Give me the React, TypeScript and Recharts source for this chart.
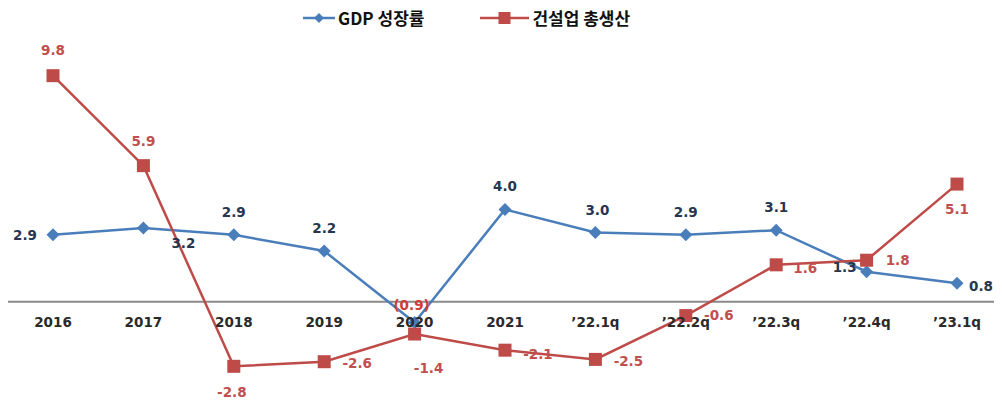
import React from 'react'
import { LineChart, Line, XAxis, YAxis, ReferenceLine, LabelList } from 'recharts'

const categories = ['2016', '2017', '2018', '2019', '2020', '2021', '’22.1q', '’22.2q', '’22.3q', '’22.4q', '’23.1q']
const gdpGrowth = [2.9, 3.2, 2.9, 2.2, -0.9, 4.0, 3.0, 2.9, 3.1, 1.3, 0.8]
const constructionOutput = [9.8, 5.9, -2.8, -2.6, -1.4, -2.1, -2.5, -0.6, 1.6, 1.8, 5.1]

const GDP_NAME = 'GDP 성장률'
const CON_NAME = '건설업 총생산'

const BLUE = '#4a7ebb'
const RED = '#be4b48'
const BLUE_TEXT = '#27364f'
const RED_TEXT = '#c0504d'

const Y_MIN = -4
const Y_MAX = 11
const W = 994
const H = 393
const X_AXIS_H = 1
const M = { top: 40, right: 0, bottom: 6, left: 0 }
const PLOT_H = H - M.top - M.bottom - X_AXIS_H
const ZERO_FROM_BOTTOM = (PLOT_H * (0 - Y_MIN)) / (Y_MAX - Y_MIN)

// label offsets (dx, dy) for each point
const gdpLabelOffset: [number, number][] = [
  [-28, 0], [40, 15], [0, -23], [0, -23], [-3, -17], [0, -23],
  [2, -23], [0, -23], [0, -23], [-22, -5], [24, 3],
]
const conLabelOffset: [number, number][] = [
  [0, -26], [0, -25], [-2, 26], [33, 1], [14, 34], [33, 4],
  [33, 2], [33, -1], [29, 3], [31, 0], [0, 25],
]

const data = categories.map((c, i) => ({
  cat: c,
  gdp: gdpGrowth[i],
  con: constructionOutput[i],
}))

const FONT = '"DejaVu Sans", "Noto Sans CJK KR", sans-serif'

function Diamond(props: any) {
  const { cx, cy, index } = props
  if (cx == null || cy == null) return <g key={`d${index}`} />
  const r = 6.5
  return (
    <path
      key={`d${index}`}
      d={`M${cx},${cy - r} L${cx + r},${cy} L${cx},${cy + r} L${cx - r},${cy} Z`}
      fill={BLUE}
    />
  )
}

function Square(props: any) {
  const { cx, cy, index } = props
  if (cx == null || cy == null) return <g key={`s${index}`} />
  const s = 6.5
  return <rect key={`s${index}`} x={cx - s} y={cy - s} width={s * 2} height={s * 2} fill={RED} />
}

function makeLabel(series: 'gdp' | 'con') {
  return (props: any) => {
    const { x, y, value, index } = props
    const off = series === 'gdp' ? gdpLabelOffset[index] : conLabelOffset[index]
    let text = value.toFixed(1)
    let fill = series === 'gdp' ? BLUE_TEXT : RED_TEXT
    if (series === 'gdp' && value < 0) {
      text = `(${Math.abs(value).toFixed(1)})`
      fill = '#d23a3a'
    }
    return (
      <text
        x={x + off[0]}
        y={y + off[1]}
        textAnchor="middle"
        dominantBaseline="central"
        fontSize={13.5}
        fontWeight="bold"
        fontFamily={FONT}
        fill={fill}
      >
        {text}
      </text>
    )
  }
}

function CatTick(props: any) {
  const { x, y, payload } = props
  return (
    <text
      x={x}
      y={y - ZERO_FROM_BOTTOM + 12}
      textAnchor="middle"
      dominantBaseline="central"
      fontSize={13.5}
      fontWeight="bold"
      fontFamily={FONT}
      fill="#2a2a2a"
    >
      {payload.value}
    </text>
  )
}

function LegendBox() {
  const items = [
    { name: GDP_NAME, color: BLUE, shape: 'diamond', w: 32 },
    { name: CON_NAME, color: RED, shape: 'square', w: 49 },
  ]
  return (
    <div
      style={{
        position: 'absolute',
        top: -3,
        left: 295,
        display: 'flex',
        gap: 56,
        fontFamily: '"Noto Sans CJK KR", sans-serif',
      }}
    >
      {items.map((it) => (
        <div key={it.name} style={{ display: 'flex', alignItems: 'center' }}>
          <svg width={it.w} height={14} style={{ marginRight: 3 }}>
            <line x1={0} y1={7} x2={it.w} y2={7} stroke={it.color} strokeWidth={2.5} />
            {it.shape === 'diamond' ? (
              <path d={`M${it.w / 2},2 L${it.w / 2 + 5},7 L${it.w / 2},12 L${it.w / 2 - 5},7 Z`} fill={it.color} />
            ) : (
              <rect x={it.w / 2 - 6} y={1} width={12} height={12} fill={it.color} />
            )}
          </svg>
          <span style={{ fontSize: 17, fontWeight: 'bold', color: '#111' }}>{it.name}</span>
        </div>
      ))}
    </div>
  )
}

export default function App() {
  return (
    <div style={{ position: 'relative', width: W, height: H, background: '#fff' }}>
      <LegendBox />
      <LineChart width={W} height={H} data={data} margin={M}>
        <XAxis
          dataKey="cat"
          height={X_AXIS_H}
          axisLine={false}
          tickLine={false}
          tick={<CatTick />}
          interval={0}
          padding={{ left: 45, right: 45 }}
        />
        <YAxis hide domain={[Y_MIN, Y_MAX]} />
        <ReferenceLine y={0} stroke="#8a8a8a" strokeWidth={2} />
        <Line
          dataKey="gdp"
          name={GDP_NAME}
          stroke={BLUE}
          strokeWidth={2.5}
          dot={Diamond}
          activeDot={false}
          isAnimationActive={false}
        >
          <LabelList dataKey="gdp" content={makeLabel('gdp')} />
        </Line>
        <Line
          dataKey="con"
          name={CON_NAME}
          stroke={RED}
          strokeWidth={2.5}
          dot={Square}
          activeDot={false}
          isAnimationActive={false}
        >
          <LabelList dataKey="con" content={makeLabel('con')} />
        </Line>
      </LineChart>
    </div>
  )
}
